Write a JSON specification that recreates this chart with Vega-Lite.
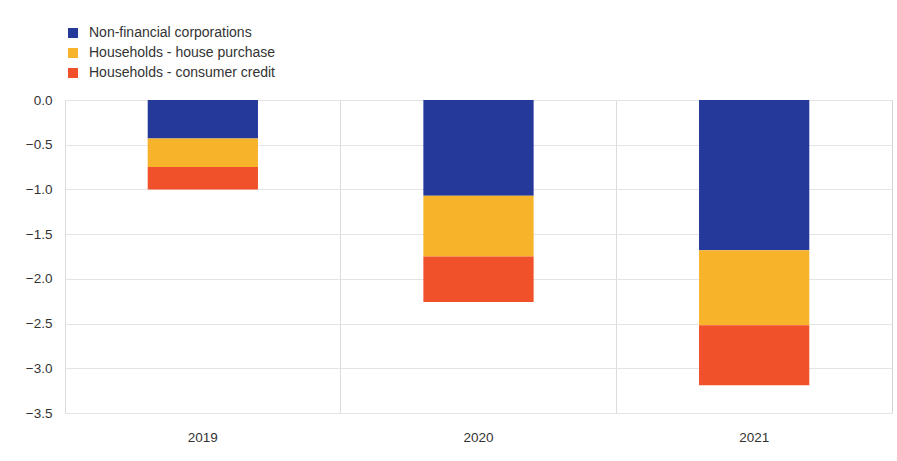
{
  "$schema": "https://vega.github.io/schema/vega-lite/v6.json",
  "width": 827,
  "height": 313,
  "autosize": {"type": "none"},
  "padding": {"left": 65, "top": 100, "right": 5, "bottom": 48},
  "background": "white",
  "config": {
    "font": "Liberation Sans",
    "view": {"stroke": "#d4d4d4", "strokeWidth": 1}
  },
  "data": {
    "values": [
      {"year": "2019", "sector": "Non-financial corporations", "value": -0.43},
      {"year": "2019", "sector": "Households - house purchase", "value": -0.32},
      {"year": "2019", "sector": "Households - consumer credit", "value": -0.25},
      {"year": "2020", "sector": "Non-financial corporations", "value": -1.07},
      {"year": "2020", "sector": "Households - house purchase", "value": -0.68},
      {"year": "2020", "sector": "Households - consumer credit", "value": -0.51},
      {"year": "2021", "sector": "Non-financial corporations", "value": -1.68},
      {"year": "2021", "sector": "Households - house purchase", "value": -0.84},
      {"year": "2021", "sector": "Households - consumer credit", "value": -0.67}
    ]
  },
  "transform": [
    {"calculate": "indexof(['Non-financial corporations','Households - house purchase','Households - consumer credit'], datum.sector)", "as": "ord"}
  ],
  "mark": {"type": "bar", "width": {"band": 0.4}},
  "encoding": {
    "x": {
      "field": "year",
      "type": "nominal",
      "scale": {"paddingInner": 0, "paddingOuter": 0},
      "axis": {
        "title": null,
        "labelAngle": 0,
        "bandPosition": 0,
        "labelOffset": 0,
        "grid": true,
        "gridColor": "#dcdcdc",
        "ticks": false,
        "domain": false,
        "labelFontSize": 13.5,
        "labelColor": "#333333",
        "labelPadding": 17
      }
    },
    "y": {
      "field": "value",
      "type": "quantitative",
      "stack": "zero",
      "scale": {"domain": [-3.5, 0], "nice": false},
      "axis": {
        "title": null,
        "values": [0, -0.5, -1, -1.5, -2, -2.5, -3, -3.5],
        "format": ".1f",
        "grid": true,
        "gridColor": "#e4e4e4",
        "ticks": false,
        "domain": false,
        "labelFontSize": 13.5,
        "labelColor": "#333333",
        "labelPadding": 13
      }
    },
    "color": {
      "field": "sector",
      "type": "nominal",
      "scale": {
        "domain": ["Non-financial corporations", "Households - house purchase", "Households - consumer credit"],
        "range": ["#25399a", "#f7b42a", "#f0502a"]
      },
      "legend": {
        "title": null,
        "orient": "none",
        "legendX": 1,
        "legendY": -74,
        "symbolType": "square",
        "symbolSize": 100,
        "symbolStrokeWidth": 0,
        "labelFontSize": 14,
        "labelColor": "#333333",
        "labelOffset": 9,
        "labelLimit": 400,
        "rowPadding": 6
      }
    },
    "order": {"field": "ord", "type": "quantitative"}
  }
}
